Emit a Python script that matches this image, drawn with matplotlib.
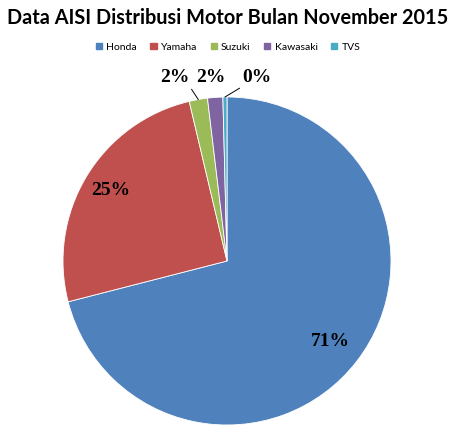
import matplotlib
matplotlib.use("Agg")
import matplotlib.pyplot as plt
import numpy as np

categories = ["Honda", "Yamaha", "Suzuki", "Kawasaki", "TVS"]
shares = [71.0, 25.3, 1.8, 1.5, 0.4]
pct_labels = ["71%", "25%", "2%", "2%", "0%"]
colors = ["#4F81BD", "#C0504D", "#9BBB59", "#8064A2", "#4BACC6"]

fig = plt.figure(figsize=(4.56, 4.32), dpi=100)
ax = fig.add_axes([63 / 456, (432 - 425) / 432, 328 / 456, 328 / 432])
wedges, _ = ax.pie(shares, colors=colors, startangle=90, counterclock=False,
                   radius=1.0, wedgeprops=dict(edgecolor="white", linewidth=0.6))
ax.set_xlim(-1, 1)
ax.set_ylim(-1, 1)
ax.set_aspect("equal")
ax.axis("off")

lab_font = dict(family="Liberation Serif", fontweight="bold", fontsize=14, color="black")

# inside labels
for i, r in [(0, 0.80), (1, 0.83)]:
    w = wedges[i]
    mid = np.deg2rad((w.theta1 + w.theta2) / 2)
    ax.text(r * np.cos(mid), r * np.sin(mid), pct_labels[i], ha="center", va="center", **lab_font)

# outside labels
out_pos = {2: (-0.317, 1.116), 3: (-0.098, 1.116), 4: (0.183, 1.116)}
relpos = {2: (1.0, 0.0), 3: None, 4: (0.0, 0.0)}
for i, (tx, ty) in out_pos.items():
    w = wedges[i]
    mid = np.deg2rad((w.theta1 + w.theta2) / 2)
    xy = (np.cos(mid), np.sin(mid))
    if relpos[i] is None:
        ax.text(tx, ty, pct_labels[i], ha="center", va="center", clip_on=False, **lab_font)
    else:
        ax.annotate(pct_labels[i], xy=xy, xytext=(tx, ty), ha="center", va="center",
                    annotation_clip=False,
                    arrowprops=dict(arrowstyle="-", color="black", lw=0.7,
                                    relpos=relpos[i], shrinkA=0, shrinkB=0),
                    **lab_font)

fig.text(0.5, 1 - 18 / 432, "Data AISI Distribusi Motor Bulan November 2015",
         ha="center", va="center", fontsize=14.3, fontweight="bold", family="Lato")

handles = [plt.Rectangle((0, 0), 1, 1, color=c) for c in colors]
fig.legend(handles, categories, loc="center", bbox_to_anchor=(0.5, 1 - 47 / 432),
           ncol=5, frameon=False, handlelength=0.6, handleheight=0.6,
           handletextpad=0.4, columnspacing=1.3, prop=dict(family="Lato", size=7.5))

fig.savefig("out.png", dpi=100)
